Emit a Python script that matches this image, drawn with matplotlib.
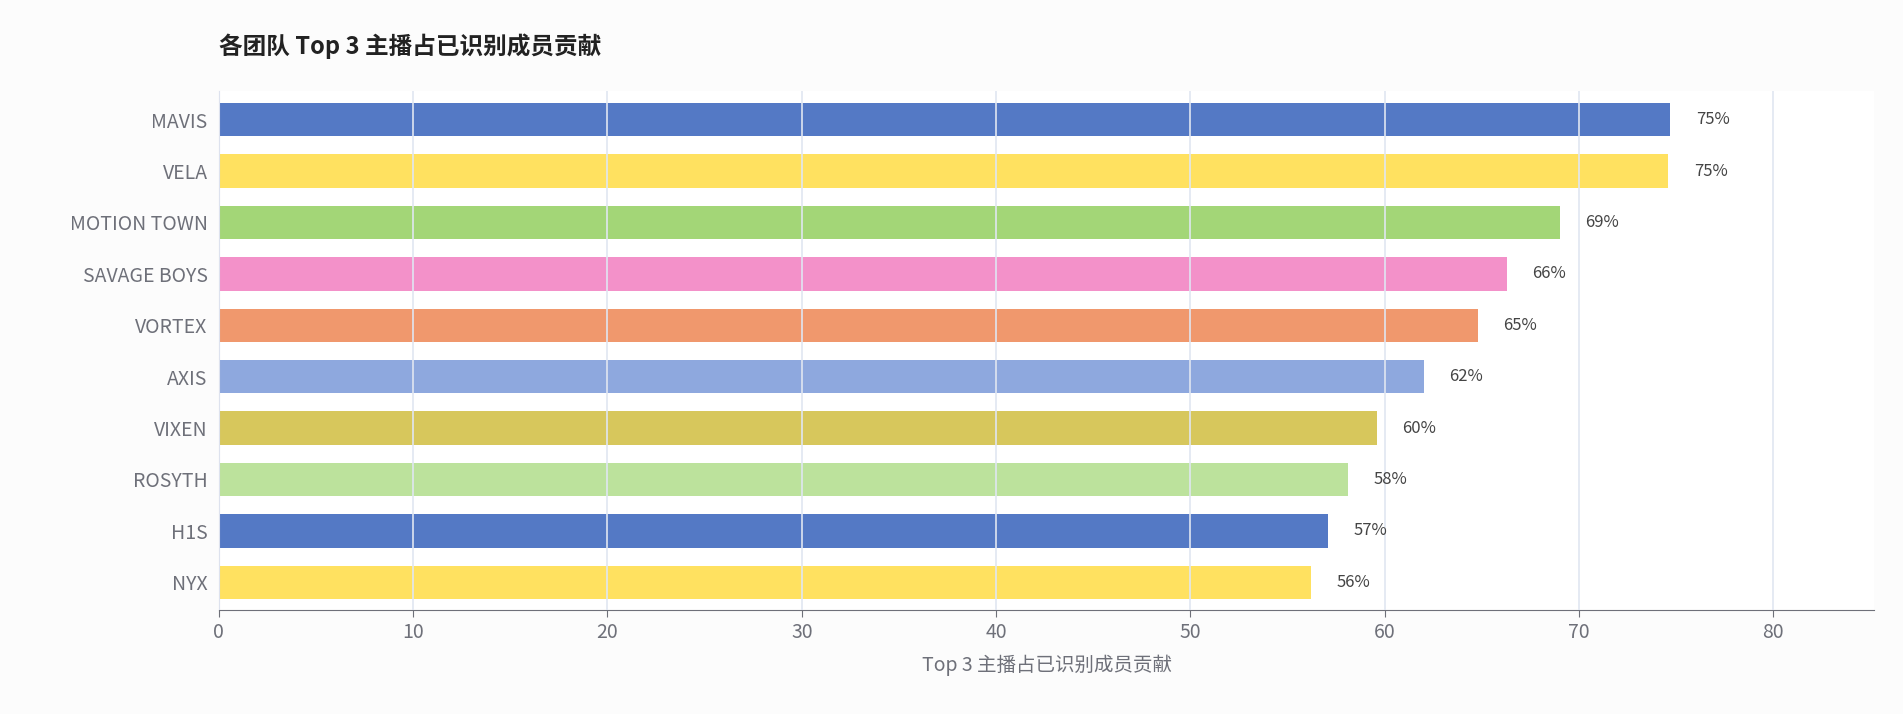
import matplotlib.pyplot as plt

plt.rcParams['font.family'] = ['Noto Sans CJK SC', 'DejaVu Sans']

teams = ['MAVIS', 'VELA', 'MOTION TOWN', 'SAVAGE BOYS', 'VORTEX', 'AXIS',
         'VIXEN', 'ROSYTH', 'H1S', 'NYX']
share = [74.7, 74.6, 69.0, 66.3, 64.8, 62.0, 59.6, 58.1, 57.1, 56.2]
labels = ['75%', '75%', '69%', '66%', '65%', '62%', '60%', '58%', '57%', '56%']
colors = ['#5479c5', '#ffe160', '#a3d677', '#f391c9', '#f0986d', '#8ea8de',
          '#d7c75c', '#bce29c', '#5479c5', '#ffe160']

fig = plt.figure(figsize=(19.03, 7.14), dpi=100)
fig.patch.set_facecolor('#fcfcfc')
ax = fig.add_axes([0.115, 0.145, 0.87, 0.727])
ax.set_facecolor('white')

y = range(len(teams))
ax.barh(y, share, color=colors, height=0.65, zorder=1)
for yi, v, lab in zip(y, share, labels):
    ax.text(v + 1.3, yi, lab, va='center', ha='left', fontsize=12, color='#444444')

ax.set_yticks(list(y))
ax.set_yticklabels(teams, fontsize=14, color='#6e7079')
ax.set_ylim(len(teams) - 0.45, -0.55)
ax.set_xlim(0, 85.2)
ax.set_xticks(range(0, 90, 10))
ax.tick_params(axis='x', labelsize=14, colors='#6e7079', length=5, color='#6e7079')
ax.tick_params(axis='y', length=0, pad=8)
ax.grid(axis='x', color='#e0e6f1', lw=1.2, zorder=2)
ax.set_axisbelow(False)
for s in ['top', 'right']:
    ax.spines[s].set_visible(False)
ax.spines['left'].set_color('#d0d4e0')
ax.spines['bottom'].set_color('#6e7079')
ax.set_xlabel('Top 3 主播占已识别成员贡献', fontsize=14, color='#6e7079', labelpad=8)

fig.text(0.115, 0.935, '各团队 Top 3 主播占已识别成员贡献', fontsize=17,
         fontweight='bold', color='#222222', va='center')

fig.savefig('out.png', dpi=100, facecolor=fig.get_facecolor())
